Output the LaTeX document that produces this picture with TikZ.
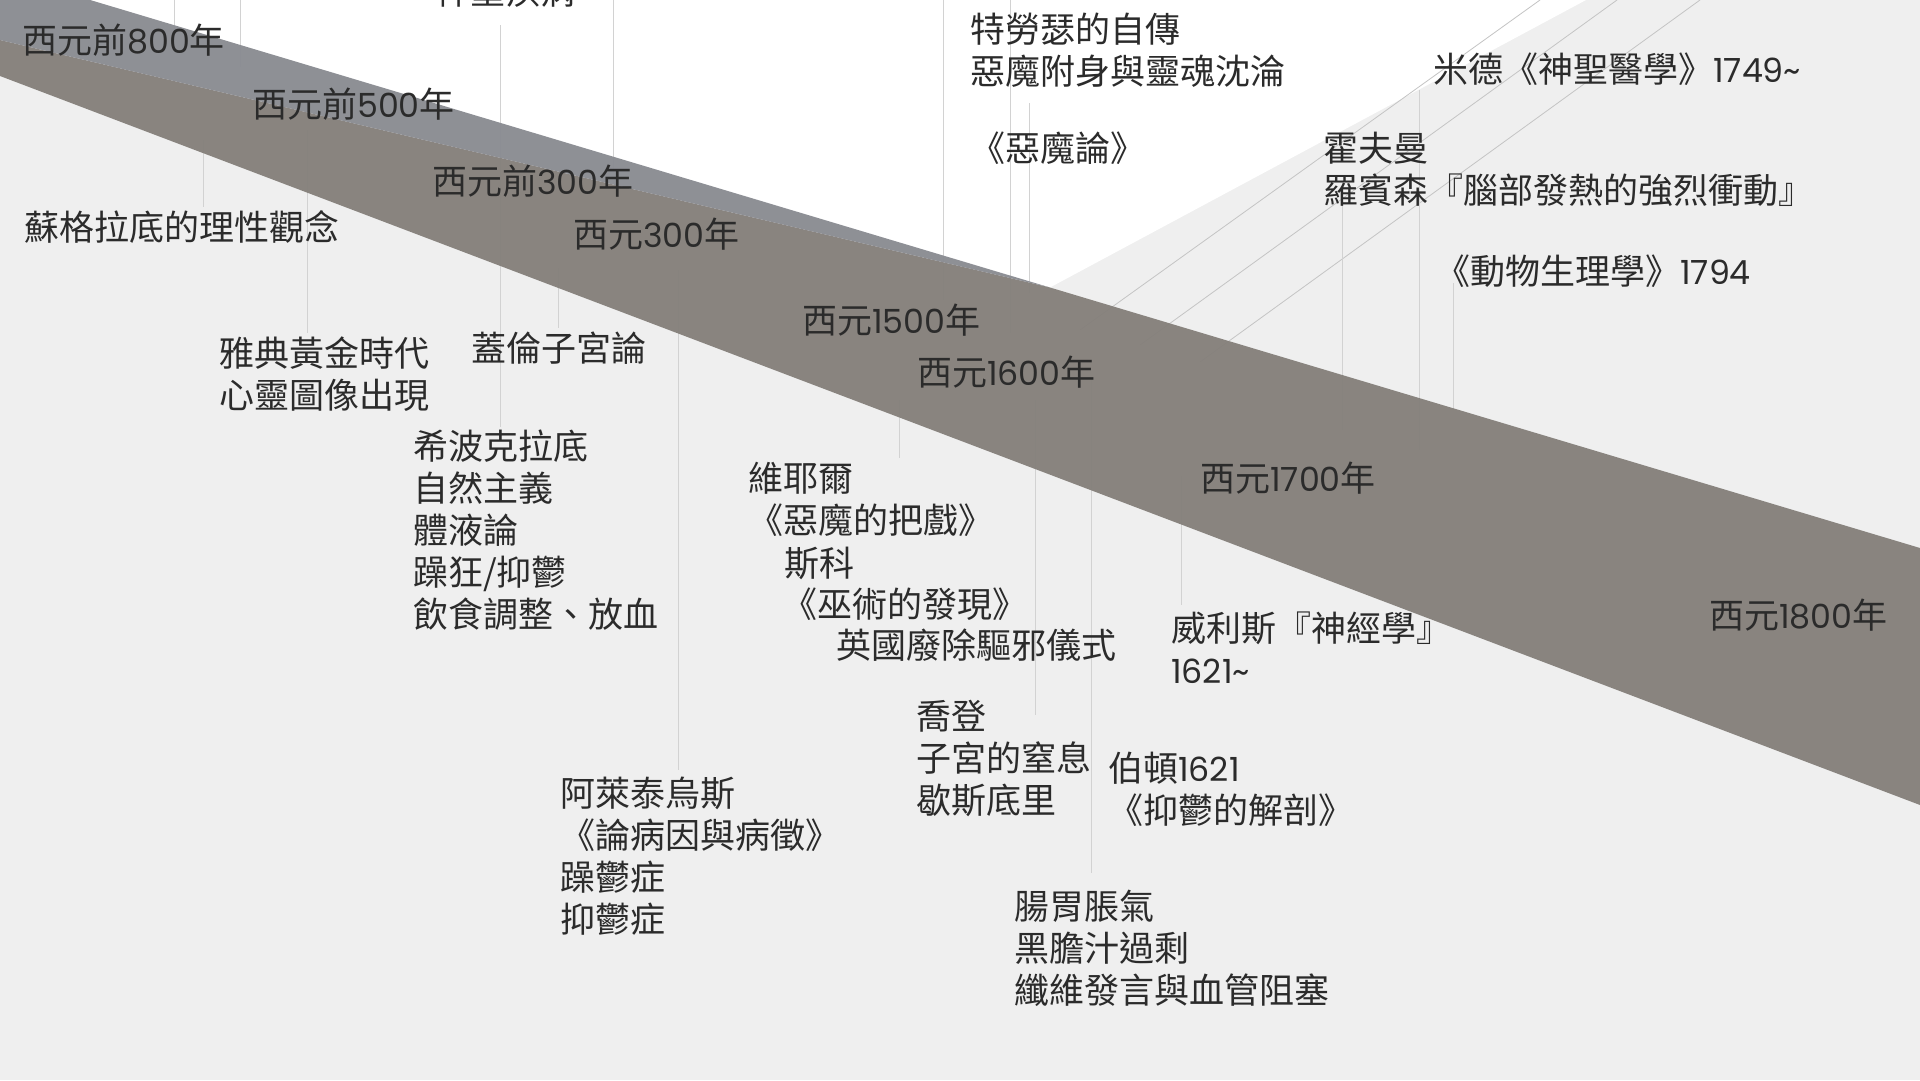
\documentclass[tikz,border=0pt]{standalone}
\usepackage{fontspec}
\setmainfont{Noto Sans CJK TC}
\newfontfamily\numf{Poppins}[Scale=0.95]
\newcommand{\nm}[1]{{\numf #1}}
\definecolor{bgg}{HTML}{EFEFEF}
\definecolor{bandc}{HTML}{847F7A}
\definecolor{bluec}{HTML}{898B91}
\definecolor{txtc}{HTML}{2B2B2B}
\definecolor{linec}{HTML}{D2D2D2}
\definecolor{diagc}{HTML}{C4C4C4}
\begin{document}
\begin{tikzpicture}[x=1pt,y=-1pt,
  lbl/.style={font=\fontsize{35}{42}\selectfont, text=txtc, inner sep=0pt, anchor=north west, align=left},
  vline/.style={draw=linec, line width=1pt},
  dline/.style={draw=diagc, line width=0.8pt},
  bandfill/.style={fill=bandc, opacity=0.95},
  bluefill/.style={fill=bluec, opacity=0.95}]
\useasboundingbox (0,0) rectangle (1920,1080);
\clip (0,0) rectangle (1920,1080);
% backgrounds
\fill[bgg] (0,0) rectangle (1920,1080);
\fill[white] (90,0) -- (1586,0) -- (1049,288) -- cycle;
% diagonal fan lines
\coordinate (d1a) at (1540,0);  \coordinate (d1b) at (1080,330);
\coordinate (d2a) at (1617,0);  \coordinate (d2b) at (1140,345);
\coordinate (d3a) at (1700,0);  \coordinate (d3b) at (1200,362);
\draw[dline] (d1a) -- (d1b);
\draw[dline] (d2a) -- (d2b);
\draw[dline] (d3a) -- (d3b);
% vertical connector coordinates
\foreach \n/\x/\ya/\yb in {a/174/0/40, b/240/0/67, c/203/140/207, d/307/130/333,
  e/500/25/427, f/558/268/328, g/613/0/170, h/678/270/770, i/899/400/458,
  j/943/0/300, k/1010/0/333, l/1029/103/293, m/1035/400/715, n/1091/380/873,
  o/1181/476/605, p/1342/203/430, q/1419/90/450, r/1453/283/410}{
  \coordinate (v\n1) at (\x,\ya);
  \coordinate (v\n2) at (\x,\yb);
  \draw[vline] (v\n1) -- (v\n2);
}
% band
\coordinate (bTL) at (0,-27);
\coordinate (bML) at (0,40);
\coordinate (bK) at (1049,287.2);
\coordinate (bTR) at (1920,548);
\coordinate (bBR) at (1920,805);
\coordinate (bBL) at (0,76);
\fill[bandfill] (bML) -- (bK) -- (bTR) -- (bBR) -- (bBL) -- cycle;
\fill[bluefill] (bTL) -- (bK) -- (bML) -- cycle;
% period labels
\node[lbl] (y800) at (22,24) {西元前\nm{800}年};
\node[lbl] (y500) at (252,88) {西元前\nm{500}年};
\node[lbl] (y300b) at (432,165) {西元前\nm{300}年};
\node[lbl] (y300) at (573,218) {西元\nm{300}年};
\node[lbl] (y1500) at (802,304) {西元\nm{1500}年};
\node[lbl] (y1600) at (917,356) {西元\nm{1600}年};
\node[lbl] (y1700) at (1200,462) {西元\nm{1700}年};
\node[lbl] (y1800) at (1709,599) {西元\nm{1800}年};
% event labels
\node[lbl] (sac) at (435,-25) {神聖疾病};
\node[lbl] (soc) at (24,210) {蘇格拉底的理性觀念};
\node[lbl] (ath) at (219,337) {雅典黃金時代\\心靈圖像出現};
\node[lbl] (gal) at (471,332) {蓋倫子宮論};
\node[lbl] (hip) at (413,430) {希波克拉底\\自然主義\\體液論\\躁狂/抑鬱\\飲食調整、放血};
\node[lbl] (tra) at (970,13) {特勞瑟的自傳\\惡魔附身與靈魂沈淪};
\node[lbl] (dem) at (970,132) {《惡魔論》};
\node[lbl] (mead) at (1433,53) {米德《神聖醫學》\nm{1749\textasciitilde}};
\node[lbl] (hof) at (1323,132) {霍夫曼\\羅賓森『腦部發熱的強烈衝動』};
\node[lbl] (ani) at (1435,255) {《動物生理學》\nm{1794}};
\node[lbl] (wey1) at (748,462) {維耶爾};
\node[lbl] (wey2) at (748,504) {《惡魔的把戲》};
\node[lbl] (wey3) at (784,547) {斯科};
\node[lbl] (wey4) at (782,588) {《巫術的發現》};
\node[lbl] (wey5) at (836,629) {英國廢除驅邪儀式};
\node[lbl] (wil) at (1171,612) {威利斯『神經學』\\\nm{1621\textasciitilde}};
\node[lbl] (are) at (560,777) {阿萊泰烏斯\\《論病因與病徵》\\躁鬱症\\抑鬱症};
\node[lbl] (jor) at (916,700) {喬登\\子宮的窒息\\歇斯底里};
\node[lbl] (bur) at (1108,752) {伯頓\nm{1621}\\《抑鬱的解剖》};
\node[lbl] (gut) at (1014,890) {腸胃脹氣\\黑膽汁過剩\\纖維發言與血管阻塞};
\end{tikzpicture}
\end{document}
